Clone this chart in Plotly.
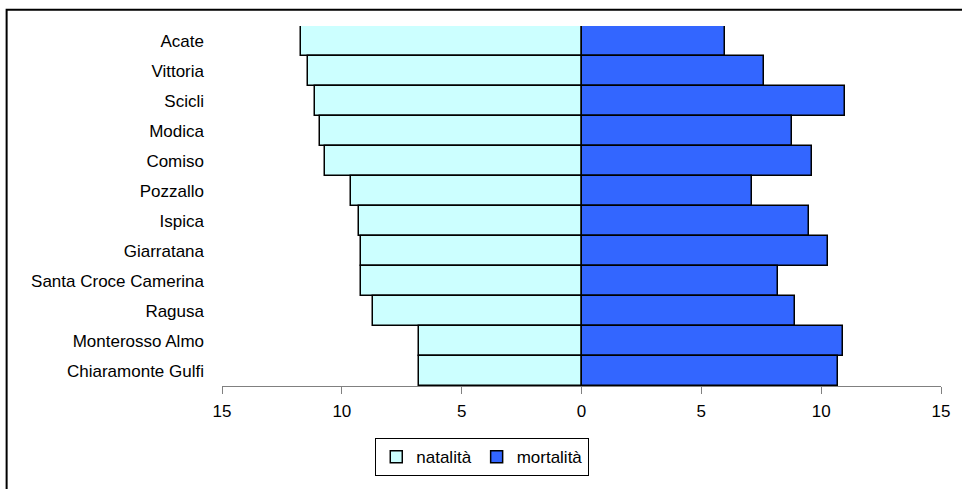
import plotly.graph_objects as go

comuni = ["Acate", "Vittoria", "Scicli", "Modica", "Comiso", "Pozzallo", "Ispica",
          "Giarratana", "Santa Croce Camerina", "Ragusa", "Monterosso Almo", "Chiaramonte Gulfi"]
natalita = [11.7, 11.4, 11.1, 10.9, 10.7, 9.6, 9.3, 9.2, 9.2, 8.7, 6.8, 6.8]
mortalita = [6.0, 7.6, 11.0, 8.8, 9.6, 7.1, 9.5, 10.3, 8.2, 8.9, 10.9, 10.7]
tick_vals = [-15, -10, -5, 0, 5, 10, 15]
tick_text = ["15", "10", "5", "0", "5", "10", "15"]

FONT = "Liberation Sans, Arial, sans-serif"

fig = go.Figure()
fig.add_trace(go.Bar(
    y=comuni, x=[-v for v in natalita], orientation="h", name="natalità",
    marker=dict(color="#CCFFFF", line=dict(color="black", width=1.5)),
    customdata=natalita, hovertemplate="%{y}: %{customdata}<extra>natalità</extra>",
))
fig.add_trace(go.Bar(
    y=comuni, x=mortalita, orientation="h", name="mortalità",
    marker=dict(color="#3366FF", line=dict(color="black", width=1.5)),
))

fig.update_layout(
    width=962, height=489,
    margin=dict(l=222, r=19, t=26, b=103),
    paper_bgcolor="white", plot_bgcolor="white",
    barmode="relative", bargap=0,
    font=dict(family=FONT, size=17, color="black"),
    xaxis=dict(range=[-15, 15], tickvals=tick_vals, ticktext=tick_text,
               showgrid=False, zeroline=False, showline=True, linecolor="#808080",
               linewidth=1, ticks="outside", ticklen=7, tickcolor="#808080",
               ticklabelstandoff=3, tickfont=dict(size=17)),
    yaxis=dict(categoryorder="array", categoryarray=comuni, autorange="reversed",
               showgrid=False, zeroline=False, showline=False, ticks="",
               ticklabelstandoff=17, tickfont=dict(size=17)),
    legend=dict(orientation="h", x=0.362, xanchor="center", y=-0.145, yanchor="top",
                bordercolor="black", borderwidth=1, bgcolor="white",
                font=dict(size=17), itemwidth=30, traceorder="normal"),
    showlegend=True,
    shapes=[dict(type="rect", xref="paper", yref="paper",
                 x0=(6.5 - 222.3) / 720.4, x1=1.2, y0=-0.5, y1=(385.7 - 9.5) / 360,
                 line=dict(color="black", width=2), fillcolor="rgba(0,0,0,0)", layer="below")],
)

fig.write_html("out.html", config={"displayModeBar": False},
               post_script="document.body.style.margin='0';")
